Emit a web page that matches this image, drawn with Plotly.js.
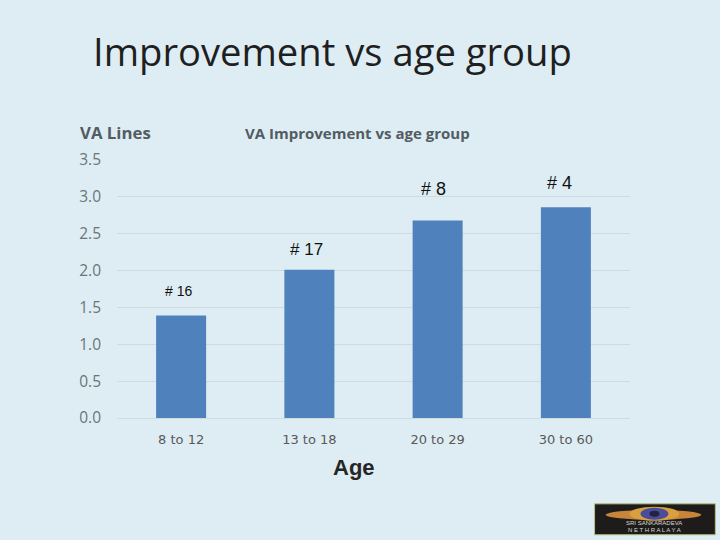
<!DOCTYPE html>
<html><head><meta charset="utf-8">
<script src="https://cdn.plot.ly/plotly-3.0.1.min.js"></script>
<style>html,body{margin:0;padding:0;background:#deedf4}</style></head>
<body><div id="chart" style="width:720px;height:540px"></div>
<script>
const categories = ["8 to 12","13 to 18","20 to 29","30 to 60"];
const improvement = [1.39,2.01,2.68,2.86];
const barLabels = ["# 16","# 17","# 8","# 4"];
const yTicks = [0,0.5,1,1.5,2,2.5,3,3.5];
const W=720,H=540,L=116.5,R=630.5,T=159.5,B=418;
const px=x=>(x-L)/(R-L), py=y=>(B-y)/(B-T);
const sans='"Open Sans", sans-serif', arial='"Liberation Sans", Arial, sans-serif';
function note(text,x,y,size,color,fam,anchor,extra){
  return Object.assign({text,x:px(x),y:py(y),xref:'paper',yref:'paper',showarrow:false,
    xanchor:anchor||'center',yanchor:'middle',font:{size,color,family:fam}},extra||{});
}
const labelPos=[[178,291,14],[306,249,17],[434,189,18],[559.5,183,18]];
const annotations=[
  note('Improvement vs age group',90,50.5,38.2,'#1f1f1f',sans,'left'),
  note('<b>VA Lines</b>',77,132,16.8,'#525c62',sans,'left'),
  note('<b>VA Improvement vs age group</b>',357,132,15,'#525c62',sans),
  note('<b>Age</b>',354,468,22,'#262626',arial),
  ...barLabels.map((t,i)=>note(t,labelPos[i][0],labelPos[i][1],labelPos[i][2],'#111',arial)),
  note('SRI SANKARADEVA',655,523.5,6,'#d8d8d8',arial),
  note('N E T H R A L A Y A',655,530,6,'#d8d8d8',arial)
];
const rect=(x0,y0,x1,y1,fill,line)=>({type:'rect',xref:'paper',yref:'paper',x0:px(x0),x1:px(x1),y0:py(y0),y1:py(y1),fillcolor:fill,line:line||{width:0},layer:'above'});
const oval=(x0,y0,x1,y1,fill)=>Object.assign(rect(x0,y0,x1,y1,fill),{type:'circle'});
const shapes=[
  rect(595,504,716,535,'#1d1c1a',{color:'#b9c27a',width:1}),
  oval(606,510,702,520,'#c8843a'),
  oval(630,507,680,521,'#d9a03f'),
  oval(641,508,669,520,'#4a4d9c'),
  oval(650,511,660,517,'#23233f')
];
Plotly.newPlot('chart',[{
  type:'bar',x:categories,y:improvement,width:0.39,
  marker:{color:'#4f81bd',line:{width:0}},hoverinfo:'x+y'
}],{
  width:W,height:H,paper_bgcolor:'#deedf4',plot_bgcolor:'#deedf4',showlegend:false,
  margin:{l:L,r:W-R,t:T,b:H-B},
  xaxis:{type:'category',range:[-0.5,3.5],showgrid:false,zeroline:false,showline:false,ticks:'',
    ticklen:0,ticklabelstandoff:12,tickfont:{family:'"DejaVu Sans", sans-serif',size:13,color:'#595959'}},
  yaxis:{range:[0,3.5],tickvals:yTicks,tickformat:'.1f',gridcolor:'#cfdbe1',gridwidth:1,
    zeroline:true,zerolinecolor:'#cfdbe1',showline:false,ticks:'',ticklabelstandoff:15,
    tickfont:{family:sans,size:15.5,color:'#6b7478'}},
  annotations,shapes
},{displayModeBar:false,staticPlot:true});
</script></body></html>
